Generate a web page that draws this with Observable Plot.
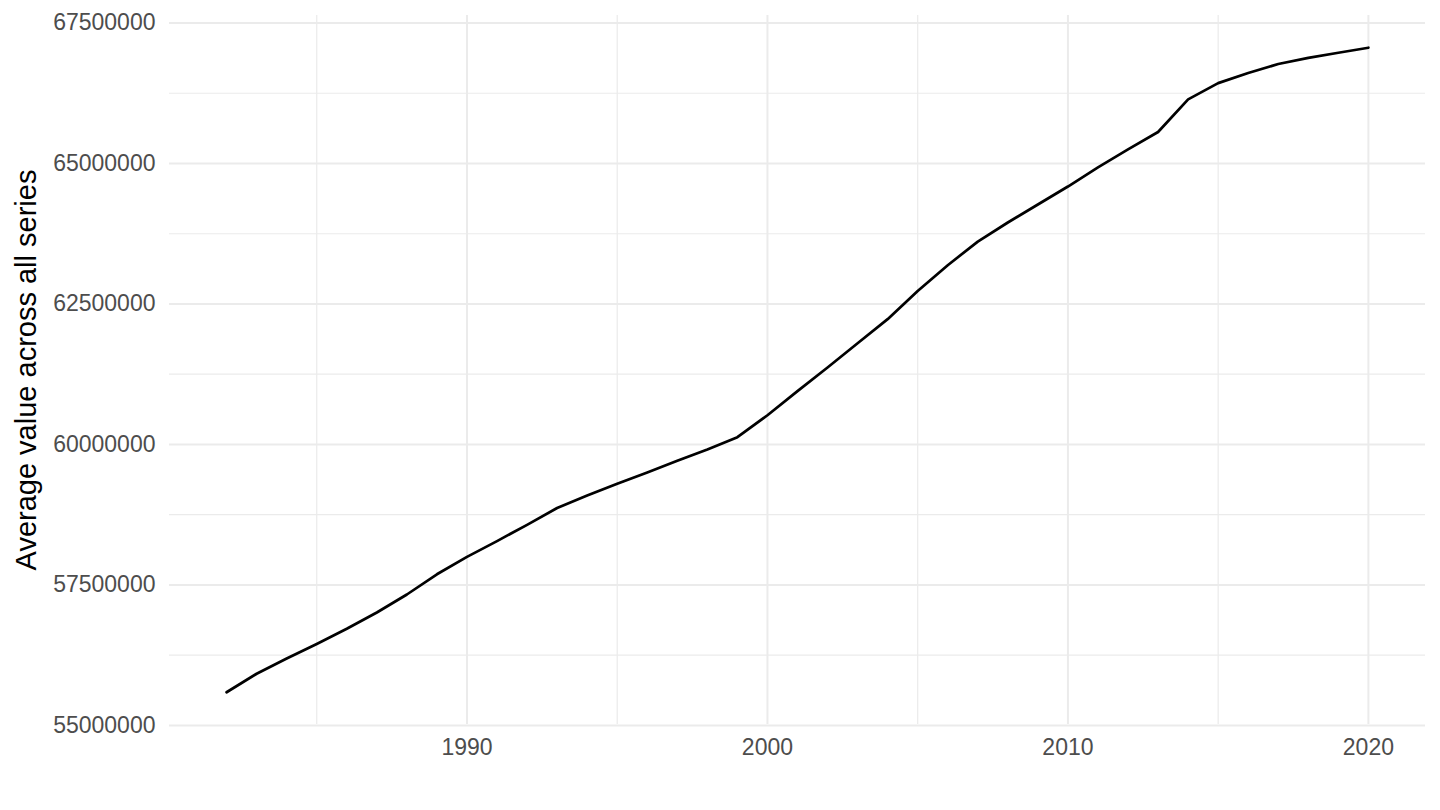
<!DOCTYPE html>
<html lang="en">

<head>
    <meta charset="UTF-8">
    <title>Average value across all series</title>
    <style>
        body {
            margin: 0;
            padding: 0;
            background-color: #ffffff;
            font-family: 'Liberation Sans', Arial, sans-serif;
        }

        #chart svg {
            display: block;
        }
    </style>
</head>

<body>

    <div id="chart"></div>

    <script src="https://cdn.jsdelivr.net/npm/d3@7"></script>
    <script src="https://cdn.jsdelivr.net/npm/@observablehq/plot@0.6"></script>

    <script>
        // values
        const years = [
            1982, 1983, 1984, 1985, 1986, 1987, 1988, 1989, 1990, 1991,
            1992, 1993, 1994, 1995, 1996, 1997, 1998, 1999, 2000, 2001,
            2002, 2003, 2004, 2005, 2006, 2007, 2008, 2009, 2010, 2011,
            2012, 2013, 2014, 2015, 2016, 2017, 2018, 2019, 2020
        ];
        const averages = [
            55590000, 55920000, 56190000, 56450000, 56720000, 57010000, 57330000, 57690000, 58000000, 58280000,
            58570000, 58870000, 59090000, 59300000, 59500000, 59710000, 59910000, 60130000, 60520000, 60950000,
            61370000, 61800000, 62230000, 62730000, 63190000, 63610000, 63950000, 64270000, 64590000, 64930000,
            65250000, 65560000, 66140000, 66430000, 66610000, 66770000, 66880000, 66970000, 67060000
        ];
        const yTicks = [55000000, 57500000, 60000000, 62500000, 65000000, 67500000];
        const yMinor = [56250000, 58750000, 61250000, 63750000, 66250000];
        const xTicks = [1990, 2000, 2010, 2020];
        const xMinor = [1985, 1995, 2005, 2015];
        const yTitle = "Average value across all series";

        const data = years.map((year, i) => ({ year, value: averages[i] }));

        // ggplot style 5% padding around the data
        function padded(extent) {
            const pad = (extent[1] - extent[0]) * 0.05;
            return [extent[0] - pad, extent[1] + pad];
        }

        const grid = "#ebebeb";

        const chart = Plot.plot({
            width: 1440,
            height: 810,
            marginLeft: 169,
            marginRight: 15,
            marginTop: 15,
            marginBottom: 86,
            style: {
                fontFamily: "'Liberation Sans', Arial, sans-serif",
                background: "#ffffff"
            },
            x: { domain: padded(d3.extent(years)) },
            y: { domain: padded(d3.extent(averages)) },
            marks: [
                Plot.gridX(xMinor, { stroke: grid, strokeOpacity: 1, strokeWidth: 1.2 }),
                Plot.gridY(yMinor, { stroke: grid, strokeOpacity: 1, strokeWidth: 1.2 }),
                Plot.gridX(xTicks, { stroke: grid, strokeOpacity: 1, strokeWidth: 2 }),
                Plot.gridY(yTicks, { stroke: grid, strokeOpacity: 1, strokeWidth: 2 }),
                Plot.axisX({
                    ticks: xTicks,
                    tickSize: 0,
                    tickPadding: 14,
                    tickFormat: d3.format("d"),
                    fontSize: 23,
                    fill: "#4d4d4d",
                    label: null
                }),
                Plot.axisY({
                    ticks: yTicks,
                    tickSize: 0,
                    tickPadding: 14,
                    tickFormat: d3.format("d"),
                    fontSize: 23,
                    fill: "#4d4d4d",
                    label: null
                }),
                Plot.text([yTitle], {
                    frameAnchor: "left",
                    textAnchor: "middle",
                    rotate: -90,
                    dx: -154,
                    lineAnchor: "top",
                    fontSize: 29,
                    fill: "#000000"
                }),
                Plot.line(data, {
                    x: "year",
                    y: "value",
                    stroke: "#000000",
                    strokeWidth: 2.7
                })
            ]
        });

        document.querySelector("#chart").append(chart);
    </script>

</body>

</html>
